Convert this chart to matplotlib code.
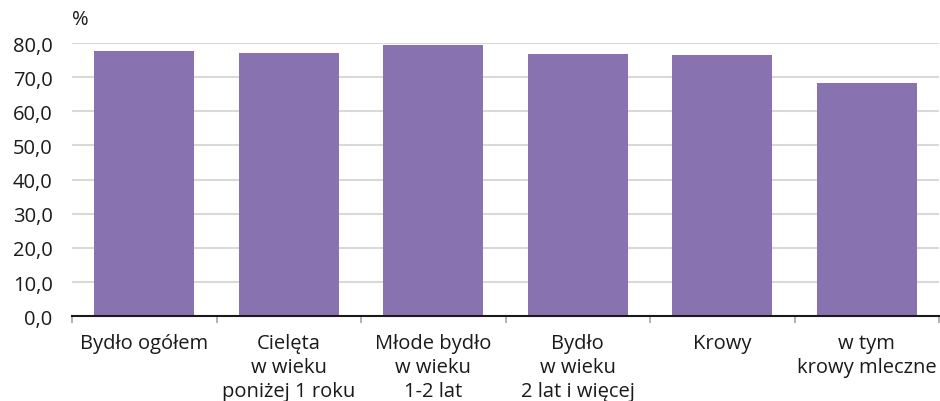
import numpy as np
from matplotlib import pyplot as plt
from matplotlib.ticker import FixedLocator, FuncFormatter

categories = ['Bydło ogółem', 'Cielęta\nw wieku\nponiżej 1 roku', 'Młode bydło\nw wieku\n1-2 lat',
              'Bydło\nw wieku\n2 lat i więcej', 'Krowy', 'w tym\nkrowy mleczne']
values = [77.7, 77.2, 79.4, 76.8, 76.5, 68.2]
yticks = [0, 10, 20, 30, 40, 50, 60, 70, 80]

plt.rcParams['font.family'] = ['Open Sans', 'DejaVu Sans']
FS = 14.5

fig = plt.figure(figsize=(9.4, 4.02), dpi=100)
ax = fig.add_axes([72/940, 1-317.3/402, 867/940, 273.3/402])

x = np.arange(len(categories))
ax.bar(x, values, width=0.69, color='#8872b0', zorder=3)

ax.set_xlim(-0.5, len(categories)-0.5)
ax.set_ylim(0, 80)
ax.set_yticks(yticks)
ax.yaxis.set_major_formatter(FuncFormatter(lambda v, p: f'{v:.1f}'.replace('.', ',')))
ax.grid(axis='y', color='#d9d9d9', linewidth=1.5, zorder=0)
ax.tick_params(axis='y', length=0, labelsize=FS, pad=14, colors='#1a1a1a')

ax.set_xticks(x)
ax.set_xticklabels(categories, fontsize=FS, linespacing=1.28, color='#1a1a1a')
ax.tick_params(axis='x', which='major', length=0, pad=12)
ax.xaxis.set_minor_locator(FixedLocator(np.arange(-0.5, len(categories), 1.0)))
ax.tick_params(axis='x', which='minor', length=5, width=1.2, color='#a6a6a6')

for s in ['top', 'right', 'left']:
    ax.spines[s].set_visible(False)
ax.spines['bottom'].set_color('#1a1a1a')
ax.spines['bottom'].set_linewidth(1.5)
ax.spines['bottom'].set_zorder(4)

fig.text(72/940, 1-20/402, '%', fontsize=FS, va='center', ha='left', color='#1a1a1a')

fig.savefig('out.png', dpi=100)
